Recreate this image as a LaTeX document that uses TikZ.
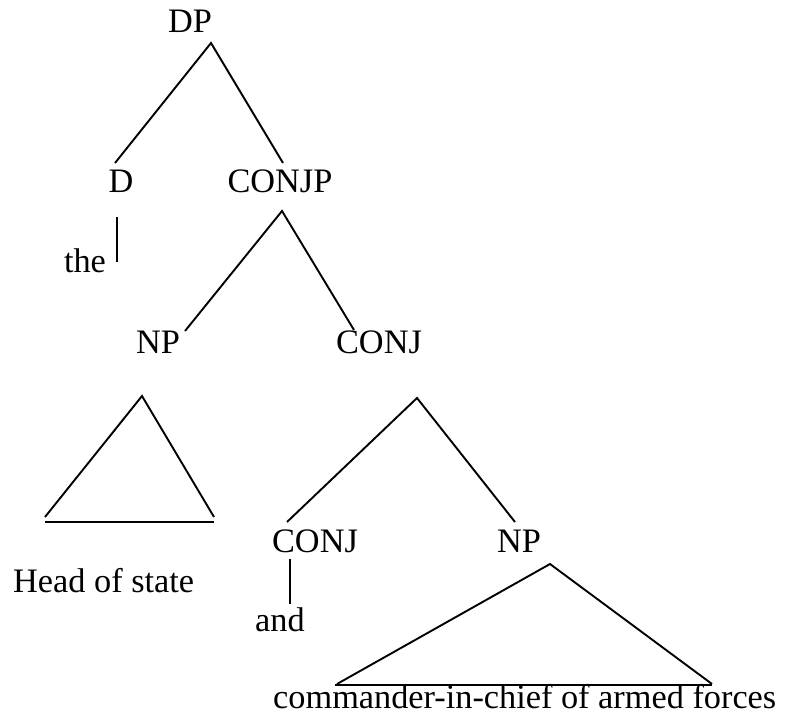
\documentclass[tikz,border=0pt]{standalone}
\usepackage{fontspec}
\setmainfont{Liberation Serif}
\begin{document}
\begin{tikzpicture}[x=1pt,y=-1pt,
  lbl/.style={font=\fontsize{34.3}{40}\selectfont, inner sep=0pt, anchor=base},
  branch/.style={line width=1.9pt, line cap=butt}]
\useasboundingbox (0,0) rectangle (785,722);
% labels
\node[lbl] (dp) at (190,33) {DP};
\node[lbl] (d) at (121,193) {D};
\node[lbl] (conjp) at (280,193) {CONJP};
\node[lbl] (the) at (85,273) {the};
\node[lbl] (np1) at (158,353) {NP};
\node[lbl] (conj1) at (379,353) {CONJ};
\node[lbl, anchor=base west] (head) at (13,592) {Head of state};
\node[lbl] (conj2) at (315,552) {CONJ};
\node[lbl] (np2) at (519,552) {NP};
\node[lbl] (and) at (280,631) {and};
\node[lbl, anchor=base west] (cmd) at (273,708) {commander-in-chief of armed forces};
% branch end points
\coordinate (dpT) at (211,43);
\coordinate (dB) at (115,163);
\coordinate (conjpB) at (283,163);
\coordinate (dT) at (117,217);
\coordinate (theT) at (117,262);
\coordinate (conjpT) at (282,211);
\coordinate (np1B) at (185,331);
\coordinate (conj1B) at (354,330);
\coordinate (tri1T) at (142,396);
\coordinate (tri1L) at (45,517);
\coordinate (tri1R) at (214,517);
\coordinate (tri1BL) at (45,522);
\coordinate (tri1BR) at (214,522);
\coordinate (conj1T) at (417,398);
\coordinate (conj2B) at (287,522);
\coordinate (np2B) at (515,522);
\coordinate (conj2T) at (290,559);
\coordinate (andT) at (290,604);
\coordinate (tri2T) at (550,564);
\coordinate (tri2L) at (337,684);
\coordinate (tri2R) at (712,684);
\coordinate (tri2BL) at (335,685);
\coordinate (tri2BR) at (712,685);
% branches
\draw[branch] (dB) -- (dpT) -- (conjpB);
\draw[branch] (dT) -- (theT);
\draw[branch] (np1B) -- (conjpT) -- (conj1B);
\draw[branch] (tri1L) -- (tri1T) -- (tri1R);
\draw[branch] (tri1BL) -- (tri1BR);
\draw[branch] (conj2B) -- (conj1T) -- (np2B);
\draw[branch] (conj2T) -- (andT);
\draw[branch] (tri2L) -- (tri2T) -- (tri2R);
\draw[branch] (tri2BL) -- (tri2BR);
\end{tikzpicture}
\end{document}
